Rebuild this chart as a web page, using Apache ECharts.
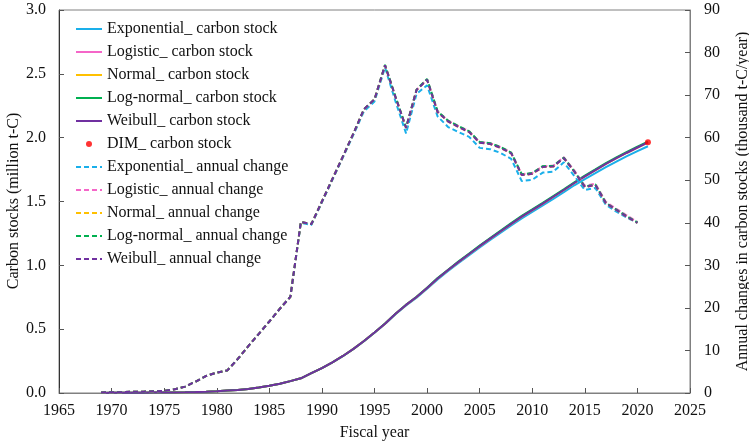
<!DOCTYPE html>
<html>
<head>
<meta charset="utf-8">
<script src="https://cdn.jsdelivr.net/npm/echarts@6/dist/echarts.min.js"></script>
<style>html,body{margin:0;padding:0;background:#fff;}#c{width:749px;height:444px;}</style>
</head>
<body>
<div id="c"></div>
<script>
// Years
const stockStartYear = 1969; // stock series 1969..2021
const changeStartYear = 1969; // annual change 1969..2020

// Carbon stocks (million t-C)
const expStock = [0.000,0.001,0.001,0.002,0.002,0.003,0.003,0.004,0.005,0.007,0.010,0.014,0.019,0.024,0.032,0.043,0.057,0.073,0.093,0.115,0.155,0.195,0.240,0.289,0.345,0.405,0.472,0.541,0.617,0.686,0.747,0.817,0.890,0.955,1.018,1.080,1.140,1.198,1.256,1.313,1.368,1.418,1.469,1.521,1.573,1.627,1.676,1.722,1.769,1.813,1.855,1.895,1.933];
const logStock = [0.000,0.001,0.001,0.002,0.002,0.003,0.003,0.004,0.005,0.007,0.010,0.014,0.019,0.024,0.032,0.043,0.057,0.073,0.093,0.115,0.155,0.195,0.240,0.290,0.346,0.407,0.474,0.543,0.620,0.690,0.752,0.823,0.897,0.963,1.027,1.089,1.150,1.209,1.267,1.325,1.381,1.432,1.484,1.537,1.590,1.645,1.697,1.745,1.794,1.839,1.882,1.923,1.962];
const normStock = [0.000,0.001,0.001,0.002,0.002,0.003,0.003,0.004,0.005,0.007,0.010,0.014,0.019,0.024,0.032,0.043,0.057,0.073,0.093,0.115,0.155,0.195,0.240,0.290,0.346,0.407,0.474,0.543,0.620,0.690,0.752,0.823,0.897,0.963,1.027,1.089,1.150,1.209,1.267,1.325,1.381,1.432,1.484,1.537,1.590,1.645,1.697,1.745,1.794,1.839,1.882,1.923,1.963];
const lognStock = [0.000,0.001,0.001,0.002,0.002,0.003,0.003,0.004,0.005,0.007,0.010,0.014,0.019,0.024,0.032,0.043,0.057,0.073,0.093,0.115,0.155,0.195,0.240,0.290,0.346,0.407,0.474,0.544,0.621,0.691,0.754,0.825,0.900,0.966,1.031,1.093,1.155,1.214,1.273,1.331,1.387,1.438,1.490,1.543,1.596,1.651,1.703,1.751,1.800,1.845,1.888,1.929,1.968];
const weiStock = [0.000,0.001,0.001,0.002,0.002,0.003,0.003,0.004,0.005,0.007,0.010,0.014,0.019,0.024,0.032,0.043,0.057,0.073,0.093,0.115,0.155,0.195,0.240,0.290,0.346,0.407,0.474,0.543,0.620,0.690,0.752,0.823,0.897,0.963,1.027,1.089,1.150,1.209,1.267,1.325,1.381,1.432,1.484,1.537,1.590,1.645,1.697,1.745,1.794,1.839,1.882,1.923,1.963];
const dimYears = [2021];
const dimStock = [1.965];

// Annual changes in carbon stocks (thousand t-C/year)
const expChange = [0.1,0.2,0.2,0.3,0.3,0.4,0.5,0.9,1.5,2.7,4.0,4.8,5.3,8.0,11.0,13.9,16.8,19.8,22.6,40.0,39.5,44.8,50.1,55.4,60.7,66.2,68.5,76.5,68.5,61.0,70.3,72.3,65.0,62.5,61.3,60.2,57.6,57.3,56.4,55.0,49.8,50.1,51.8,52.0,54.2,51.0,47.7,48.2,44.2,42.6,41.2,40.0];
const logChange = [0.1,0.2,0.2,0.3,0.3,0.4,0.5,0.9,1.5,2.7,4.0,4.8,5.3,8.0,11.0,13.9,16.8,19.8,22.6,40.2,39.7,45.0,50.3,55.6,61.0,66.7,69.0,77.0,69.6,62.4,71.3,73.7,66.2,64.0,62.7,61.5,59.0,58.7,57.8,56.5,51.4,51.7,53.3,53.4,55.4,52.3,48.7,49.2,44.9,43.3,41.7,40.2];
const normChange = [0.1,0.2,0.2,0.3,0.3,0.4,0.5,0.9,1.5,2.7,4.0,4.8,5.3,8.0,11.0,13.9,16.8,19.8,22.6,40.2,39.7,45.0,50.3,55.6,61.0,66.7,69.0,77.0,69.5,62.3,71.2,73.6,66.0,63.8,62.5,61.3,58.8,58.5,57.6,56.3,51.2,51.5,53.1,53.2,55.2,52.0,48.4,48.9,44.6,43.0,41.4,40.0];
const lognChange = [0.1,0.2,0.2,0.3,0.3,0.4,0.5,0.9,1.5,2.7,4.0,4.8,5.3,8.0,11.0,13.9,16.8,19.8,22.6,40.2,39.7,45.0,50.3,55.6,61.0,66.7,69.0,77.1,69.6,62.4,71.3,73.8,66.2,64.0,62.7,61.5,59.0,58.7,57.8,56.5,51.4,51.7,53.3,53.4,55.3,52.1,48.5,49.0,44.7,43.1,41.5,40.1];
const weiChange = [0.1,0.2,0.2,0.3,0.3,0.4,0.5,0.9,1.5,2.7,4.0,4.8,5.3,8.0,11.0,13.9,16.8,19.8,22.6,40.2,39.7,45.0,50.3,55.6,61.0,66.7,69.0,77.0,69.5,62.3,71.2,73.6,66.0,63.8,62.5,61.3,58.8,58.5,57.6,56.3,51.2,51.5,53.1,53.2,55.2,52.0,48.4,48.9,44.6,43.0,41.4,40.0];

const names = ['Exponential_','Logistic_','Normal_','Log-normal_','Weibull_'];
const colors = ['#1AAFEA','#F566C8','#FFC000','#00B050','#7030A0'];
const stocks = [expStock, logStock, normStock, lognStock, weiStock];
const changes = [expChange, logChange, normChange, lognChange, weiChange];
const leftAxisTitle = 'Carbon stocks (million t-C)';

function pairs(start, arr){ return arr.map((v,i)=>[start+i, v]); }

const FONT = 'Liberation Serif';
const series = [];
names.forEach((n,k)=>{
  series.push({
    name: n + ' carbon stock', type:'line', yAxisIndex:0, symbol:'none',
    data: pairs(stockStartYear, stocks[k]),
    lineStyle:{color:colors[k], width:2}, itemStyle:{color:colors[k]}, z:2+k
  });
});
series.push({
  name:'DIM_ carbon stock', type:'scatter', yAxisIndex:0, symbol:'circle', symbolSize:6,
  data: dimYears.map((y,i)=>[y, dimStock[i]]), itemStyle:{color:'#FF0000'}, z:20
});
names.forEach((n,k)=>{
  series.push({
    name: n + ' annual change', type:'line', yAxisIndex:1, symbol:'none',
    data: pairs(changeStartYear, changes[k]),
    lineStyle:{color:colors[k], width:2, type:[5,3]}, itemStyle:{color:colors[k]}, z:10+k
  });
});

const legendData = series.map(s => s.type === 'line'
  ? {name:s.name, itemStyle:{opacity:0}}
  : {name:s.name, icon:'circle'});

const chart = echarts.init(document.getElementById('c'), null, {renderer:'canvas'});
chart.setOption({
  animation:false,
  backgroundColor:'#fff',
  textStyle:{fontFamily:FONT},
  grid:{left:59, right:59, top:10, bottom:51, containLabel:false, outerBoundsMode:'none',
        show:true, borderColor:'#808080', borderWidth:1},
  legend:{
    show:true, orient:'vertical', left:75, top:21, padding:0, itemWidth:26, itemHeight:6, itemGap:7,
    textStyle:{fontFamily:FONT, fontSize:16, color:'#111', lineHeight:16},
    data: legendData
  },
  graphic:[{
    type:'text', x:14, y:201, rotation:Math.PI/2,
    style:{text:leftAxisTitle, font:'16px "Liberation Serif"', fill:'#111', align:'center', verticalAlign:'middle'}
  }],
  xAxis:{
    type:'value', min:1965, max:2025, interval:5,
    name:'Fiscal year', nameLocation:'middle', nameGap:32,
    nameTextStyle:{fontFamily:FONT, fontSize:16, color:'#111'},
    axisLine:{show:true, lineStyle:{color:'#808080'}},
    axisTick:{show:true, inside:true, length:5, lineStyle:{color:'#555'}},
    axisLabel:{fontFamily:FONT, fontSize:16, color:'#111', margin:10, formatter:v=>String(v)},
    splitLine:{show:false}
  },
  yAxis:[{
    type:'value', min:0, max:3, interval:0.5,
    axisLine:{show:true, lineStyle:{color:'#333'}},
    axisTick:{show:true, inside:true, length:5, lineStyle:{color:'#555'}},
    axisLabel:{fontFamily:FONT, fontSize:16, color:'#111', margin:13, formatter:v=>v.toFixed(1)},
    splitLine:{show:false}
  },{
    type:'value', min:0, max:90, interval:10, position:'right',
    name:'Annual changes in carbon stocks (thousand t-C/year)', nameLocation:'middle', nameGap:45,
    nameRotate:90,
    nameTextStyle:{fontFamily:FONT, fontSize:16, color:'#111'},
    axisLine:{show:true, lineStyle:{color:'#808080'}},
    axisTick:{show:true, inside:true, length:5, lineStyle:{color:'#555'}},
    axisLabel:{fontFamily:FONT, fontSize:16, color:'#111', margin:14},
    splitLine:{show:false}
  }],
  series: series
});
</script>
</body>
</html>
